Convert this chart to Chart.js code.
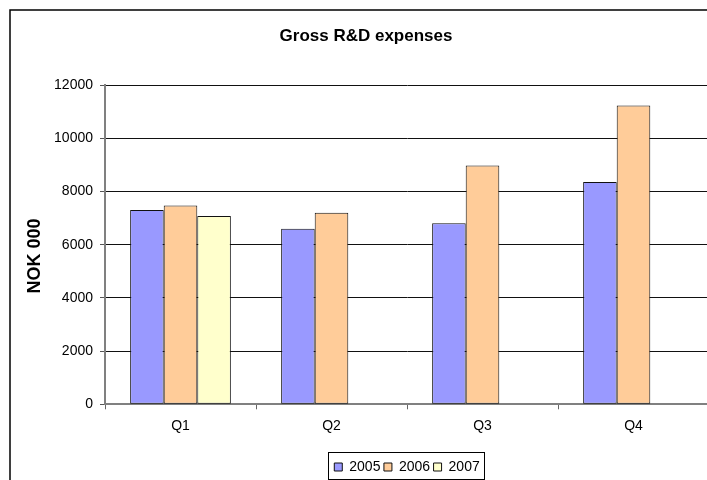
<!DOCTYPE html>
<html>
<head>
<meta charset="utf-8">
<title>Gross R&amp;D expenses</title>
<script src="https://cdn.jsdelivr.net/npm/chart.js@4/dist/chart.umd.min.js"></script>
<style>
  html, body { margin: 0; padding: 0; background: #fff; overflow: hidden; }
  canvas { display: block; }
</style>
</head>
<body>
<canvas id="rdChart" width="724" height="480"></canvas>
<script>
const quarters = ["Q1", "Q2", "Q3", "Q4"];
const years = ["2005", "2006", "2007"];
const expenses2005 = [7300, 6600, 6800, 8350];
const expenses2006 = [7470, 7200, 8970, 11230];
const expenses2007 = [7080, null, null, null];
const yTicks = [0, 2000, 4000, 6000, 8000, 10000, 12000];

const fills = ["#9999ff", "#ffcc99", "#ffffcc"];
const family = "'Liberation Sans', Arial, sans-serif";

// frame round the whole chart (runs off the right/bottom like the original),
// box round the legend and the rotated y axis title
const framePlugin = {
  id: 'frame',
  afterDraw(chart) {
    const ctx = chart.ctx;
    ctx.save();
    ctx.strokeStyle = '#000';
    ctx.lineWidth = 1.5;
    ctx.beginPath();
    ctx.moveTo(10, chart.height + 5);
    ctx.lineTo(10, 10);
    ctx.lineTo(chart.width + 5, 10);
    ctx.stroke();

    const lg = chart.legend;
    const hb = lg.legendHitBoxes;
    if (hb.length) {
      const left = Math.min(...hb.map(b => b.left)) - 6;
      const right = Math.max(...hb.map(b => b.left + b.width)) + 5;
      const top = Math.round(lg.top - 4.5);
      ctx.lineWidth = 1;
      ctx.strokeRect(Math.round(left) + 0.5, top + 0.5, Math.round(right - left), 27);
    }

    ctx.translate(35, 256);
    ctx.rotate(-Math.PI / 2);
    ctx.fillStyle = '#000';
    ctx.font = "bold 18px " + family;
    ctx.textAlign = 'center';
    ctx.textBaseline = 'middle';
    ctx.fillText('NOK 000', 0, 0);
    ctx.restore();
  }
};

const series = [expenses2005, expenses2006, expenses2007];

new Chart(document.getElementById("rdChart"), {
  type: 'bar',
  data: {
    labels: quarters,
    datasets: years.map((y, i) => ({
      label: y,
      data: series[i],
      backgroundColor: fills[i],
      borderColor: '#111',
      borderWidth: 1,
      borderSkipped: false,
      categoryPercentage: 0.667,
      barPercentage: 1.0
    }))
  },
  options: {
    responsive: false,
    animation: false,
    layout: { padding: { left: 23, right: 15, top: 0, bottom: -4 } },
    plugins: {
      title: {
        display: true,
        text: 'Gross R&D expenses',
        color: '#000',
        font: { family, size: 17, weight: 'bold' },
        padding: { top: 26, bottom: 38.6 }
      },
      legend: {
        position: 'bottom',
        fullSize: false,
        labels: {
          color: '#000',
          font: { family, size: 14 },
          boxWidth: 8,
          boxHeight: 8,
          padding: 3.5
        }
      },
      tooltip: { enabled: false }
    },
    scales: {
      x: {
        grid: {
          offset: true,
          drawOnChartArea: false,
          drawTicks: true,
          tickLength: 5,
          tickColor: '#666'
        },
        border: { color: '#808080', width: 2 },
        ticks: { color: '#000', font: { family, size: 14 }, padding: 8 },
        afterFit: s => { s.height = 52.2; }
      },
      y: {
        min: 0,
        max: 12000,
        afterBuildTicks: s => { s.ticks = yTicks.map(v => ({ value: v })); },
        grid: { color: '#111', tickColor: '#555', tickLength: 5 },
        border: { color: '#808080', width: 2 },
        ticks: {
          color: '#000',
          font: { family, size: 14 },
          padding: 7,
          callback: v => String(v)
        },
        afterFit: s => { s.width = 82; }
      }
    }
  },
  plugins: [framePlugin]
});
</script>
</body>
</html>
